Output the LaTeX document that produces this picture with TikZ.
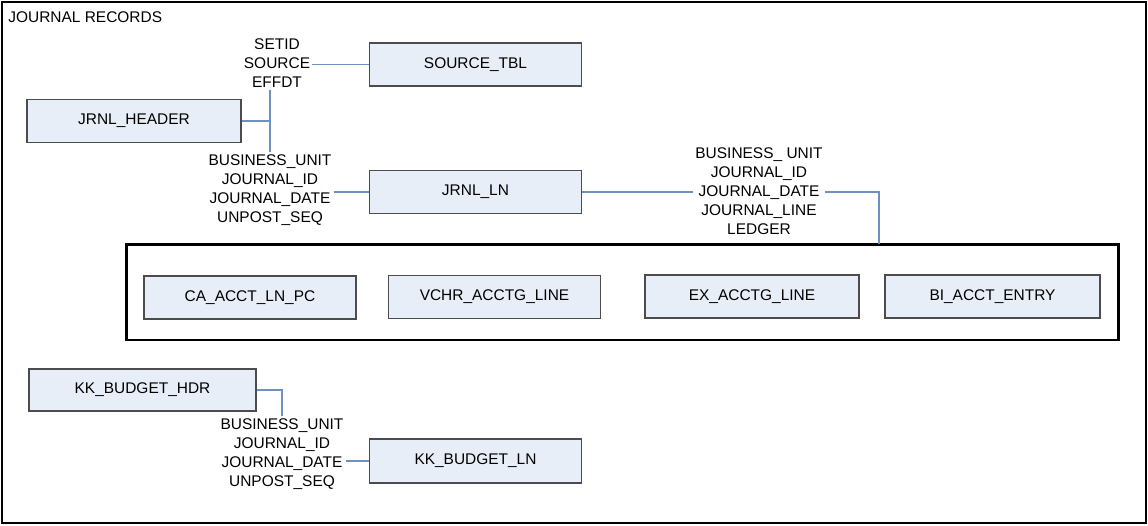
\documentclass[tikz,border=0pt]{standalone}
\usepackage{fontspec}
\setmainfont{Liberation Sans}
\usepackage{xcolor}
\usetikzlibrary{positioning,calc}

\definecolor{tblfill}{HTML}{E8EEF7}
\definecolor{linkblue}{HTML}{6F91C0}

\begin{document}
\begin{tikzpicture}[x=0.02cm, y=-0.02cm,
				tbl/.style={rectangle, draw=black!70, line width=0.9pt, fill=tblfill, minimum width=4.24cm, minimum height=0.86cm, font=\fontsize{8.8}{10.9}\selectfont},
				keys/.style={align=center, inner sep=1pt, font=\fontsize{8.8}{10.9}\selectfont},
				link/.style={draw=linkblue, line width=0.8pt}
				]
				\useasboundingbox (0,0) rectangle (1148,525);
				\draw[line width=1.1pt] (2,2) rectangle (1146,523);
				\node[anchor=west, inner sep=0pt, font=\fontsize{8.8}{10.9}\selectfont] (title) at (8,17) {JOURNAL RECORDS};
				
				% journal tables
				\node[tbl] (srctbl) at (475.5,64.5) {SOURCE\_TBL};
				\node[tbl, minimum width=4.28cm] (hdr) at (134,121) {JRNL\_HEADER};
				\node[tbl] (ln) at (475.5,192) {JRNL\_LN};
				\node[keys] (srckeys) at (277,63) {SETID\\SOURCE\\EFFDT};
				\node[keys] (hdrkeys) at (270,190) {BUSINESS\_UNIT\\JOURNAL\_ID\\JOURNAL\_DATE\\UNPOST\_SEQ};
				\node[keys] (glkeys) at (759,191) {BUSINESS\_ UNIT\\JOURNAL\_ID\\JOURNAL\_DATE\\JOURNAL\_LINE\\LEDGER};
				
				% accounting line group
				\node[rectangle, draw, line width=1.7pt, minimum width=19.86cm, minimum height=1.92cm] (grp) at (622.5,292) {};
				\node[tbl] (ca) at (250,297.5) {CA\_ACCT\_LN\_PC};
				\node[tbl] (vchr) at (494.5,297) {VCHR\_ACCTG\_LINE};
				\node[tbl, minimum width=4.28cm] (ex) at (752,296.5) {EX\_ACCTG\_LINE};
				\node[tbl, minimum width=4.3cm] (bi) at (992.5,296.5) {BI\_ACCT\_ENTRY};
				\coordinate (gltap) at (879,244);
				
				% budget tables
				\node[tbl, minimum width=4.54cm, minimum height=0.84cm] (kkhdr) at (142.5,390) {KK\_BUDGET\_HDR};
				\node[tbl, minimum height=0.88cm] (kkln) at (475.5,461) {KK\_BUDGET\_LN};
				\node[keys] (kkkeys) at (282,454) {BUSINESS\_UNIT\\JOURNAL\_ID\\JOURNAL\_DATE\\UNPOST\_SEQ};
				
				\draw[link] (srckeys.east |- srctbl.west) -- (srctbl.west);
				\draw[link] (srckeys.south -| 270,0) -- (hdrkeys.north -| 270,0);
				\draw[link] (hdr.east) -- (hdr.east -| 270,0);
				\draw[link] (hdrkeys.east |- ln.west) -- (ln.west);
				\draw[link] (ln.east) -- (glkeys.west |- ln.east);
				\draw[link] (glkeys.east |- ln.east) -| (gltap);
				\draw[link] (kkhdr.east) -| (kkkeys.north);
				\draw[link] (kkkeys.east |- kkln.west) -- (kkln.west);
			\end{tikzpicture}
\end{document}
